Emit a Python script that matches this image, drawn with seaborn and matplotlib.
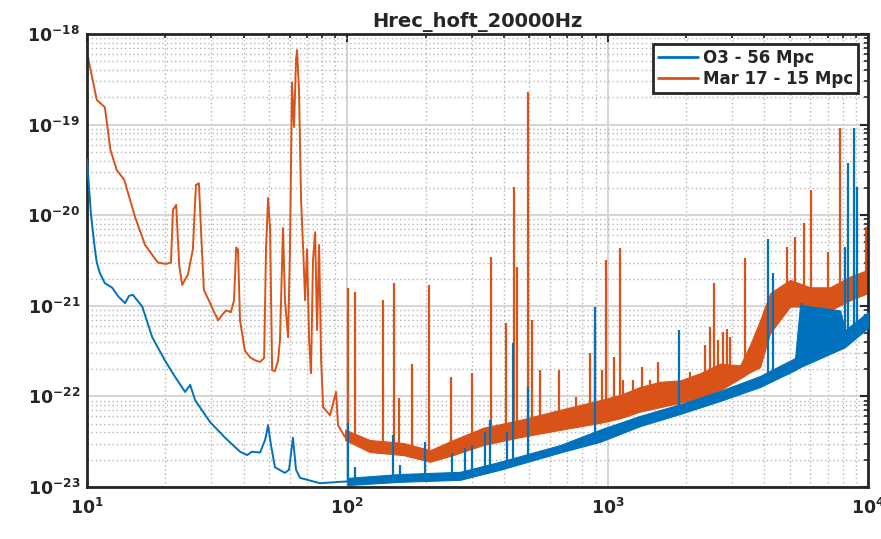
import numpy as np
import matplotlib
matplotlib.use("Agg")
import matplotlib.pyplot as plt
import seaborn as sns
from matplotlib.ticker import LogLocator, FuncFormatter, NullFormatter
from matplotlib.lines import Line2D

# ---- Mar 17 (orange) : smooth low-frequency part ----
mar_f = [10, 10.9, 11.7, 12.3, 13.0, 13.9, 15.3, 16.7, 18.7, 20.1, 21.0, 21.4, 22.0, 22.6,
         23.2, 24.4, 25.5, 26.2, 26.9, 27.4, 28.1, 29.7, 30.8, 31.9, 33.0, 34.2, 35.7, 36.7,
         37.4, 38.0, 38.7, 40.4, 42.3, 44.2, 46.2, 47.9, 48.7, 49.6, 50.5, 51.4, 52.7, 54.2,
         55.1, 56.6, 57.6, 59.2, 60.2, 61.3, 62.4, 63.5, 64.1, 65.2, 66.4, 67.6, 68.8, 70.0,
         71.3, 72.5, 73.8, 75.2, 76.5, 77.9, 79.3, 80.7, 85.8, 90.5, 92.1, 98.0]
mar_asd = [6.2e-19, 1.87e-19, 1.56e-19, 5.25e-20, 3.16e-20, 2.45e-20, 9.5e-21, 4.7e-21,
           3.0e-21, 2.9e-21, 3.0e-21, 1.15e-20, 1.3e-20, 2.8e-21, 1.7e-21, 2.2e-21, 4.2e-21,
           2.15e-20, 2.25e-20, 6.9e-21, 1.5e-21, 1.07e-21, 8.5e-22, 6.9e-22, 7.9e-22, 8.9e-22,
           8.5e-22, 1.15e-21, 4.4e-21, 4.2e-21, 6.9e-22, 3.2e-22, 2.7e-22, 2.5e-22, 2.4e-22,
           2.65e-22, 4.2e-21, 1.55e-20, 6.9e-21, 1.95e-22, 1.9e-22, 2.5e-22, 4.2e-22, 7.2e-21,
           1.15e-21, 4.5e-22, 4.2e-21, 2.9e-19, 9.4e-20, 5.2e-19, 6.65e-19, 2.4e-19, 1.48e-20,
           4.5e-21, 1.15e-21, 4.2e-21, 4.2e-22, 1.8e-22, 3.2e-21, 6.5e-21, 5.4e-22, 4.7e-21,
           2.5e-22, 7.6e-23, 6.2e-23, 1.12e-22, 4.8e-23, 3.55e-23]

# noisy floor above ~100 Hz (lower / upper edge of the band)
mar_band_f = [98, 122, 164, 208, 255, 332, 461, 656, 935, 1120, 1332, 1589, 1898, 2265,
              2704, 3228, 3525, 3850, 4207, 5023, 6000, 7150, 8530, 10000]
mar_band_lo = [3.3e-23, 2.43e-23, 2.25e-23, 1.9e-23, 2.25e-23, 2.9e-23, 3.55e-23, 4.27e-23,
               5.1e-23, 5.75e-23, 6.8e-23, 7.6e-23, 8.5e-23, 9.8e-23, 1.17e-22, 1.58e-22,
               1.85e-22, 2.1e-22, 5.0e-22, 9.8e-22, 9.8e-22, 8.9e-22, 1.15e-21, 1.38e-21]
mar_band_hi = [4.3e-23, 3.3e-23, 3.06e-23, 2.55e-23, 3.3e-23, 4.5e-23, 5.5e-23, 7.1e-23,
               9.1e-23, 1.04e-22, 1.27e-22, 1.45e-22, 1.5e-22, 1.8e-22, 2.3e-22, 2.2e-22,
               3.7e-22, 6.9e-22, 1.38e-21, 1.93e-21, 1.6e-21, 1.6e-21, 2.1e-21, 2.5e-21]

# narrow lines: frequency, peak, floor
mar_line_f = [100.6, 107, 137, 151, 158, 177, 206, 250, 301, 356, 407, 437, 449, 494, 512,
              550, 650, 756, 855, 895, 951, 986, 1059, 1117, 1146, 1252, 1356, 1455, 1563,
              2073, 2367, 2473, 2563, 2655, 2775, 2874, 2953, 3374, 4890, 5248, 5686, 6045,
              7030, 7816, 9840]
mar_line_top = [1.58e-21, 1.42e-21, 1.16e-21, 1.78e-21, 9.5e-23, 2.3e-22, 1.7e-21, 1.64e-22,
                1.8e-22, 3.45e-21, 6.5e-22, 2.05e-20, 2.7e-21, 2.3e-19, 7.0e-22, 1.95e-22,
                1.95e-22, 9.8e-23, 3.0e-22, 5.8e-22, 1.95e-22, 3.2e-21, 2.7e-22, 4.35e-21,
                1.5e-22, 1.5e-22, 2.1e-22, 1.5e-22, 2.4e-22, 1.86e-22, 3.7e-22, 5.8e-22,
                1.78e-21, 4.2e-22, 5.1e-22, 5.5e-22, 4.5e-22, 3.4e-21, 4.5e-21, 5.75e-21,
                8.2e-21, 1.9e-20, 3.9e-21, 9.1e-20, 7.4e-21]
mar_line_base = [3.3e-23, 3.1e-23, 2.55e-23, 2.55e-23, 2.55e-23, 2.45e-23, 2.1e-23, 2.75e-23,
                 3.3e-23, 3.6e-23, 3.9e-23, 4.2e-23, 4.3e-23, 4.6e-23, 4.7e-23, 5.1e-23,
                 5.5e-23, 5.9e-23, 6.4e-23, 6.6e-23, 6.8e-23, 7.0e-23, 7.3e-23, 7.8e-23,
                 8.0e-23, 8.5e-23, 9.0e-23, 9.5e-23, 1.0e-22, 1.2e-22, 1.4e-22, 1.45e-22,
                 1.5e-22, 1.55e-22, 1.6e-22, 1.65e-22, 1.7e-22, 2.0e-22, 1.0e-21, 1.0e-21,
                 1.0e-21, 1.0e-21, 9.0e-22, 1.0e-21, 1.4e-21]

# ---- O3 (blue) ----
o3_f = [10, 10.36, 10.73, 10.9, 11.2, 11.7, 12.5, 13.2, 14.0, 14.5, 15.0, 16.3, 17.8, 19.9,
        21.8, 23.8, 24.9, 26.0, 29.7, 33.9, 38.7, 41.2, 43.0, 46.2, 48.3, 49.6, 50.9, 52.7,
        57.6, 59.7, 61.8, 63.5, 65.8, 78.5, 93.7, 100]
o3_asd = [4.1e-20, 1.0e-20, 4.1e-21, 3.0e-21, 2.3e-21, 1.78e-21, 1.58e-21, 1.26e-21,
          1.07e-21, 1.29e-21, 1.32e-21, 9.8e-22, 4.5e-22, 2.5e-22, 1.64e-22, 1.12e-22,
          1.34e-22, 9.1e-23, 5.2e-23, 3.5e-23, 2.45e-23, 2.25e-23, 2.45e-23, 2.4e-23, 3.3e-23,
          4.8e-23, 2.9e-23, 1.65e-23, 1.43e-23, 1.55e-23, 3.5e-23, 1.55e-23, 1.26e-23,
          1.1e-23, 1.14e-23, 1.15e-23]

o3_band_f = [100, 159, 271, 386, 656, 935, 1332, 1898, 2704, 3850, 5248, 5483, 7816, 8166,
             10000]
o3_band_lo = [1.05e-23, 1.14e-23, 1.2e-23, 1.55e-23, 2.4e-23, 3.15e-23, 4.7e-23, 6.4e-23,
              8.9e-23, 1.27e-22, 1.95e-22, 2.1e-22, 3.3e-22, 3.5e-22, 5.7e-22]
o3_band_hi = [1.26e-23, 1.39e-23, 1.47e-23, 1.9e-23, 2.9e-23, 4.3e-23, 6.1e-23, 8.2e-23,
              1.15e-22, 1.68e-22, 2.65e-22, 1.02e-21, 8.9e-22, 5.4e-22, 8.5e-22]

o3_line_f = [100.6, 107, 149.8, 159, 199, 252, 283, 301, 338, 353, 411, 433, 494, 895, 1880,
             4130, 4317, 5580, 8166, 8388, 8843, 9078]
o3_line_top = [5.1e-23, 1.65e-23, 3.75e-23, 1.75e-23, 3.15e-23, 2.37e-23, 2.7e-23, 2.9e-23,
               4.0e-23, 5.5e-23, 4.0e-23, 3.9e-22, 1.27e-22, 9.8e-22, 5.4e-22, 5.4e-21,
               2.3e-21, 1.07e-21, 4.5e-21, 3.8e-20, 9.1e-20, 2.05e-20]
o3_line_base = [1.15e-23, 1.2e-23, 1.2e-23, 1.25e-23, 1.2e-23, 1.3e-23, 1.35e-23, 1.4e-23,
                1.5e-23, 1.6e-23, 1.85e-23, 1.9e-23, 2.0e-23, 3.4e-23, 7.0e-23, 1.5e-22,
                1.6e-22, 2.3e-22, 4.0e-22, 4.2e-22, 4.5e-22, 4.7e-22]

blue = "#0072BD"
orange = "#D95319"

sns.set_style("white")
plt.rcParams["font.family"] = ["DejaVu Sans"]
plt.rcParams["font.weight"] = "bold"

fig = plt.figure(figsize=(8.81, 5.39), dpi=100)
ax = fig.add_axes([0.0988, 0.0965, 0.8864, 0.8404])

# orange first, blue drawn on top
ax.fill_between(mar_band_f, mar_band_lo, mar_band_hi, color=orange, lw=0.8, zorder=2)
ax.vlines(mar_line_f, mar_line_base, mar_line_top, color=orange, lw=1.6, zorder=2)
sns.lineplot(x=mar_f, y=mar_asd, ax=ax, color=orange, lw=1.4, sort=False,
             estimator=None, zorder=2)

ax.fill_between(o3_band_f, o3_band_lo, o3_band_hi, color=blue, lw=0.8, zorder=3)
ax.vlines(o3_line_f, o3_line_base, o3_line_top, color=blue, lw=1.6, zorder=3)
sns.lineplot(x=o3_f, y=o3_asd, ax=ax, color=blue, lw=1.4, sort=False,
             estimator=None, zorder=3)

ax.set_xscale("log")
ax.set_yscale("log")
ax.set_xlim(10, 1e4)
ax.set_ylim(1e-23, 1e-18)

ax.xaxis.set_major_locator(LogLocator(base=10))
ax.xaxis.set_minor_locator(LogLocator(base=10, subs=np.arange(2, 10)))
ax.yaxis.set_major_locator(LogLocator(base=10))
ax.yaxis.set_minor_locator(LogLocator(base=10, subs=np.arange(2, 10)))
ax.xaxis.set_minor_formatter(NullFormatter())
ax.yaxis.set_minor_formatter(NullFormatter())
fmt = FuncFormatter(lambda v, p: r"$\mathbf{10^{%d}}$" % round(np.log10(v)))
ax.xaxis.set_major_formatter(fmt)
ax.yaxis.set_major_formatter(fmt)

ax.grid(True, which="major", color="#d6d6d6", lw=1.5, ls="-", zorder=0)
ax.grid(True, which="minor", color="#b5b5b5", lw=1.0, ls=(0, (1, 2)), zorder=0)
ax.set_axisbelow(True)

ax.tick_params(which="both", direction="in", top=True, right=True, colors="#262626",
               labelsize=12.5)
ax.tick_params(which="major", length=6, width=1.5)
ax.tick_params(which="minor", length=3, width=1.2)
ax.tick_params(axis="x", pad=8)
ax.tick_params(axis="y", pad=5)
for s in ax.spines.values():
    s.set_linewidth(2)
    s.set_color("#262626")

ax.set_xlabel("")
ax.set_ylabel("")
ax.set_title("Hrec_hoft_20000Hz", fontsize=14, fontweight="bold", pad=5)

handles = [Line2D([], [], color=blue, lw=2), Line2D([], [], color=orange, lw=2)]
leg = ax.legend(handles, ["O3 - 56 Mpc", "Mar 17 - 15 Mpc"], loc="upper right",
                prop={"weight": "bold", "size": 12}, fancybox=False, framealpha=1,
                edgecolor="#262626", borderaxespad=0.6, handlelength=2.4,
                borderpad=0.3, labelspacing=0.15, handletextpad=0.3)
leg.get_frame().set_linewidth(2)

fig.savefig("out.png", dpi=100)
